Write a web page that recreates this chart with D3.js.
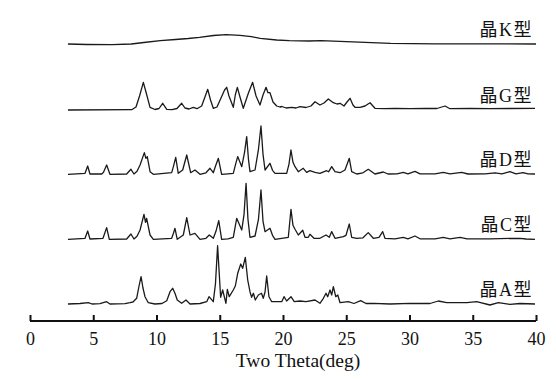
<!DOCTYPE html>
<html>
<head>
<meta charset="utf-8">
<script src="https://cdn.jsdelivr.net/npm/d3@7"></script>
<style>
  html, body { margin: 0; padding: 0; background: #fff; }
  svg { display: block; }
</style>
</head>
<body>
<svg id="chart" width="556" height="379"></svg>
<script>
// ---- DATA ----
const xTicks = [0, 5, 10, 15, 20, 25, 30, 35, 40];
const xTitle = "Two Theta(deg)";
const seriesNames = ["晶K型", "晶G型", "晶D型", "晶C型", "晶A型"];
const seriesOffsets = [276, 210, 145.7, 80.7, 16];

// [2θ, relative intensity]
const seriesK = [[3.0,0],[4.5,-0.5],[6.5,-0.7],[8.0,0],[9.0,1.5],[10.3,3.3],[11.5,4.5],[12.5,5.5],[13.4,6.7],[14.5,8.5],[15.5,9.3],[16.6,8.7],[17.5,7.3],[18.2,5.7],[19.5,4],[20.5,3.3],[22.1,3],[23.0,3.3],[25,2.3],[28.5,0.7],[32,0.2],[40,0]];

const seriesG = [[3.0,0],[8.04,0.3],[8.38,3],[8.66,14],[8.96,27.7],[9.21,16],[9.49,2.7],[9.88,0.5],[10.2,1.5],[10.49,6.7],[10.81,0.7],[11.23,0.3],[11.62,1.5],[11.99,6.7],[12.25,2],[12.57,1],[12.91,2.7],[13.2,1.3],[13.57,4],[13.83,13],[14.05,20.7],[14.27,10],[14.49,1.7],[14.78,3],[15.1,12],[15.38,20],[15.55,22.7],[15.73,14],[16.07,2.7],[16.23,15],[16.39,22.7],[16.6,13],[16.86,1.7],[17.26,16.7],[17.6,27.7],[17.87,14],[18.18,5],[18.42,15],[18.66,22.7],[18.81,17.3],[18.97,17.3],[19.21,8],[19.5,4],[19.76,3],[19.92,3.5],[20.24,2],[20.69,2.7],[21.03,2],[21.34,3.3],[21.82,2.5],[22.21,4],[22.53,8.3],[22.92,5],[23.24,7],[23.58,11],[23.98,7.3],[24.27,6],[24.51,6.7],[24.82,4],[25.06,8],[25.3,11.7],[25.53,5],[25.69,2.7],[26.09,2.7],[26.48,4],[26.88,7.3],[27.27,1.7],[28.06,1.3],[28.85,1.5],[30.04,1.3],[31.23,1.5],[32.17,1.5],[32.81,4],[33.2,1.3],[34.78,1.5],[36.36,1.3],[37.94,1.5],[39.92,1.7]];

const seriesD = [[3.0,0],[4.35,1],[4.56,8.3],[4.74,0.3],[5.67,0.3],[5.81,2],[6.06,9.3],[6.32,0],[7.64,0.3],[7.98,5],[8.22,0.3],[8.46,3],[8.7,9.3],[9.04,21.7],[9.16,16],[9.27,17.7],[9.49,2.6],[9.75,0],[11.2,1.6],[11.34,8],[11.52,17],[11.72,1],[12.07,4.3],[12.39,19.3],[12.7,1.6],[13.04,4.3],[13.44,0],[13.91,1.5],[14.23,6],[14.49,1.6],[14.66,8],[14.89,16],[15.15,0],[15.65,0.5],[16.07,1],[16.25,10],[16.42,17.7],[16.74,7.6],[16.96,22],[17.13,37.7],[17.27,15],[17.39,2.6],[17.79,4.3],[18.06,25],[18.26,48.3],[18.42,20],[18.58,4.3],[18.97,11],[19.17,4],[19.37,1],[20.29,1],[20.47,10],[20.63,24.3],[20.79,12],[20.95,7.6],[21.21,2.6],[21.6,6],[21.87,2],[22.13,3.6],[22.53,2],[22.92,1],[23.45,3.6],[23.6,2.5],[23.85,7.7],[24.11,2.6],[24.51,1.6],[24.9,4.3],[25.24,16],[25.43,2.6],[25.83,0.3],[26.32,1.5],[26.74,5],[27.27,0.3],[27.93,2.3],[28.3,0.3],[29.01,0.5],[29.51,2],[29.88,0.5],[30.43,3],[30.83,0.5],[32.02,0.5],[32.67,2],[33.2,0.5],[34.13,2],[34.62,0.3],[35.97,0.5],[36.76,1.5],[37.31,0.5],[37.94,2.6],[38.42,0.5],[38.97,1.6],[39.37,0.5],[39.92,0.3]];

const seriesC = [[3.0,0],[4.35,1],[4.56,8.3],[4.74,0.3],[5.77,1],[6.06,11.7],[6.27,0],[7.64,0.3],[7.98,5.3],[8.22,0.3],[8.46,3],[8.7,9.3],[9.01,25],[9.13,17],[9.22,21],[9.49,4.3],[9.75,0],[11.2,1],[11.34,6],[11.46,11],[11.64,0],[12.12,4.3],[12.39,21.7],[12.65,4.3],[13.04,6],[13.44,0],[13.91,1],[14.17,4.3],[14.49,1],[14.7,8],[14.92,18.7],[15.15,0],[15.65,0.5],[16.07,2],[16.34,21],[16.74,9.3],[16.92,25],[17.08,56],[17.23,20],[17.39,2],[17.79,3.3],[18.06,20],[18.26,49.3],[18.42,18],[18.58,7.6],[18.97,11],[19.17,4],[19.37,0],[20.42,2],[20.63,30],[20.79,14],[20.95,10],[21.21,4.3],[21.56,9],[21.74,2],[22.0,2],[22.13,5],[22.45,1],[22.92,1],[23.4,4.3],[23.66,2],[23.85,7.7],[24.11,1],[24.77,2.6],[24.98,4],[25.24,15.3],[25.43,2],[25.83,1],[26.32,1.5],[26.74,6.7],[27.14,1],[27.59,2],[27.88,7.7],[28.06,1],[28.85,0.5],[29.51,2],[29.88,0.5],[30.43,3.3],[30.83,0.5],[32.02,0.5],[32.67,2],[33.2,0.5],[34.0,2],[34.55,0.5],[36.36,0.5],[38.74,1],[39.21,0.3],[39.92,0]];

const seriesA = [[3.0,0],[3.95,0.5],[4.61,1.3],[4.9,0],[5.53,0.3],[6.06,2.3],[6.32,0],[7.51,0.3],[7.91,1.3],[8.14,2],[8.43,5.7],[8.62,18],[8.78,27.3],[8.93,16],[9.09,7.3],[9.35,1.3],[9.88,0],[10.43,0.5],[10.81,3.3],[11.07,12.3],[11.28,15.7],[11.46,10.7],[11.64,4],[11.99,0.7],[12.33,4],[12.65,0],[13.44,0.5],[13.97,2.3],[14.15,7.3],[14.49,2.3],[14.66,20],[14.83,58.3],[15.07,6.7],[15.23,14],[15.49,0.7],[15.6,14.7],[15.75,7.3],[16.07,14],[16.23,18],[16.42,30.7],[16.66,40],[16.81,35.7],[17.02,46.7],[17.21,24],[17.39,12.3],[17.52,6.7],[17.66,10.7],[17.81,4],[18.05,9],[18.3,10.7],[18.44,5.7],[18.58,12],[18.71,28],[18.89,7.3],[19.11,2.3],[19.9,2.3],[20.08,7.3],[20.29,3],[20.63,7.3],[20.89,2.3],[21.34,3],[21.82,2.3],[22.53,4],[22.92,0.7],[23.19,5.7],[23.4,10.7],[23.53,7.3],[23.72,14],[23.85,9],[23.98,17.3],[24.17,7.3],[24.33,9],[24.51,1.3],[25.16,2.3],[25.61,0.5],[26.14,3.3],[26.56,0.5],[27.14,0.7],[28.46,0],[30.04,0.7],[31.62,0.5],[32.28,3],[32.94,1.3],[34.55,1.3],[35.31,2.3],[36.36,-1],[37.02,1.3],[37.94,-0.3],[38.74,0.5],[39.92,0]];

const allSeries = [seriesK, seriesG, seriesD, seriesC, seriesA];

// ---- CHART ----
const svg = d3.select("#chart");
const x = d3.scaleLinear().domain([0, 40]).range([30, 536]);
const y = d3.scaleLinear().domain([0, 300]).range([320, 20]);

const line = d3.line().x(d => x(d[0])).y(d => y(d[1] + d.off)).curve(d3.curveLinear);

allSeries.forEach((s, i) => {
  const off = seriesOffsets[i];
  const pts = s.map(p => { const q = [p[0], p[1]]; q.off = off; return q; });
  svg.append("path")
    .attr("d", line(pts))
    .attr("fill", "none")
    .attr("stroke", "#1a1a1a")
    .attr("stroke-width", 1.3)
    .attr("stroke-linejoin", "round");
  svg.append("text")
    .attr("x", 533)
    .attr("y", y(off) - 8)
    .attr("text-anchor", "end")
    .attr("font-family", "'Liberation Serif', 'Noto Sans CJK SC', serif")
    .attr("font-size", 18)
    .attr("letter-spacing", 1.5)
    .attr("fill", "#111")
    .text(seriesNames[i]);
});

const axis = d3.axisBottom(x).tickValues(xTicks).tickSize(-6).tickPadding(8).tickFormat(d3.format("d"));
const g = svg.append("g").attr("transform", "translate(0,321)").call(axis);
g.select(".domain").attr("stroke", "#111").attr("stroke-width", 2).attr("d", `M${x(0)},0H${x(40)}`);
g.selectAll(".tick line").attr("stroke", "#111").attr("stroke-width", 2);
g.selectAll(".tick text")
  .attr("font-family", "'Liberation Serif', serif")
  .attr("font-size", 18)
  .attr("fill", "#111")
  .attr("dy", null)
  .attr("y", 24);

svg.append("text")
  .attr("x", 298)
  .attr("y", 367)
  .attr("text-anchor", "middle")
  .attr("font-family", "'Liberation Serif', serif")
  .attr("font-size", 19.5)
  .attr("fill", "#111")
  .text(xTitle);
</script>
</body>
</html>
